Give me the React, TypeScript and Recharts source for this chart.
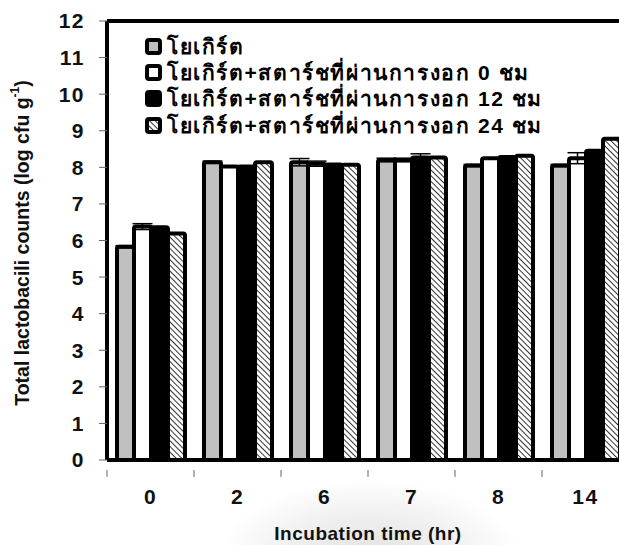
import React from 'react';
import { BarChart, Bar, XAxis, YAxis, ErrorBar, Legend } from 'recharts';

const categories = ['0', '2', '6', '7', '8', '14'];
const yogurt = [5.83, 8.14, 8.14, 8.2, 8.05, 8.05];
const yogurtErr = [0.03, 0.03, 0.1, 0.05, 0.03, 0.03];
const starch0 = [6.38, 8.02, 8.1, 8.2, 8.25, 8.25];
const starch0Err = [0.08, 0, 0.07, 0.05, 0, 0.15];
const starch12 = [6.36, 8.02, 8.08, 8.27, 8.28, 8.45];
const starch12Err = [0, 0, 0, 0.1, 0, 0];
const starch24 = [6.19, 8.14, 8.07, 8.27, 8.32, 8.78];
const starch24Err = [0, 0, 0, 0, 0, 0];
const yTicks = [0, 1, 2, 3, 4, 5, 6, 7, 8, 9, 10, 11, 12];

const seriesNames = [
  'โยเกิร์ต',
  'โยเกิร์ต+สตาร์ชที่ผ่านการงอก 0 ชม',
  'โยเกิร์ต+สตาร์ชที่ผ่านการงอก 12 ชม',
  'โยเกิร์ต+สตาร์ชที่ผ่านการงอก 24 ชม',
];

const data = categories.map((c, i) => ({
  time: c,
  yogurt: yogurt[i],
  yogurtErr: yogurtErr[i],
  starch0: starch0[i],
  starch0Err: starch0Err[i],
  starch12: starch12[i],
  starch12Err: starch12Err[i],
  starch24: starch24[i],
  starch24Err: starch24Err[i],
}));

const FONT = '"Liberation Sans", Arial, "Noto Sans", sans-serif';
const fills = ['#c0c0c0', '#ffffff', '#000000', 'url(#hatch)'];

// tick label at the category centre, tick mark at the category boundary
const XTick = (props: any) => {
  const { x, y, payload } = props;
  return (
    <g>
      <line x1={x - 43.5} y1={y + 2} x2={x - 43.5} y2={y + 9} stroke="#666" strokeWidth={1} />
      <text x={x} y={y + 36} textAnchor="middle" fontFamily={FONT} fontWeight="bold" fontSize={21} letterSpacing={1.5} fill="#111">
        {payload.value}
      </text>
    </g>
  );
};

const LegendBox = () => (
  <div style={{ fontFamily: FONT, fontWeight: 'bold', fontSize: 21, letterSpacing: 1.6, color: '#000' }}>
    {seriesNames.map((name, i) => (
      <div key={name} style={{ display: 'flex', alignItems: 'center', height: 26.3 }}>
        <svg width={17} height={17} style={{ marginRight: 5 }}>
          <defs>
            <pattern id={'lhatch' + i} patternUnits="userSpaceOnUse" width="4" height="4" patternTransform="rotate(-45)">
              <rect width="4" height="4" fill="#fff" />
              <line x1="0" y1="0" x2="0" y2="4" stroke="#333" strokeWidth="2" />
            </pattern>
          </defs>
          <rect x={2} y={2} width={13} height={13} rx={2} fill={i === 3 ? `url(#lhatch${i})` : fills[i]} stroke="#000" strokeWidth={4} />
        </svg>
        <span>{name}</span>
      </div>
    ))}
  </div>
);

export default function App() {
  return (
    <div
      style={{
        position: 'absolute',
        left: 0,
        top: 0,
        width: 619,
        height: 545,
        overflow: 'hidden',
        background: 'radial-gradient(ellipse 150px 75px at 370px 555px, #e2e2e2 0%, #f0f0f0 55%, #ffffff 100%)',
      }}
    >
      <BarChart
        width={640}
        height={545}
        data={data}
        margin={{ top: 20, right: 11, left: 0, bottom: 0 }}
        barCategoryGap={10}
        barGap={0}
      >
        <defs>
          <pattern id="hatch" patternUnits="userSpaceOnUse" width="4" height="4" patternTransform="rotate(-45)">
            <rect width="4" height="4" fill="#fff" />
            <line x1="0" y1="0" x2="0" y2="4" stroke="#333" strokeWidth="2" />
          </pattern>
        </defs>
        <XAxis
          xAxisId="top"
          orientation="top"
          dataKey="time"
          height={1}
          tick={false}
          tickLine={false}
          axisLine={{ stroke: '#000', strokeWidth: 4 }}
        />
        <XAxis
          dataKey="time"
          height={85}
          tickLine={false}
          axisLine={{ stroke: '#000', strokeWidth: 4 }}
          tick={<XTick />}
          interval={0}
          label={{
            value: 'Incubation time (hr)',
            position: 'insideBottom',
            offset: 5,
            style: { fontFamily: FONT, fontWeight: 'bold', fontSize: 19, letterSpacing: 0.5, fill: '#111' },
          }}
        />
        <YAxis
          width={107}
          domain={[0, 12]}
          ticks={yTicks}
          interval={0}
          tickSize={8}
          tickMargin={14}
          tickLine={{ stroke: '#666', strokeWidth: 1 }}
          axisLine={{ stroke: '#000', strokeWidth: 4 }}
          tick={{ fontFamily: FONT, fontWeight: 'bold', fontSize: 21, letterSpacing: 1.5, fill: '#111' }}
        />
        <Legend
          layout="vertical"
          align="center"
          verticalAlign="middle"
          wrapperStyle={{ left: 145, top: 33, width: 460 }}
          content={<LegendBox />}
        />
        <Bar dataKey="yogurt" fill={fills[0]} stroke="#000" strokeWidth={4} radius={2} isAnimationActive={false}>
          <ErrorBar dataKey="yogurtErr" width={10} stroke="#000" strokeWidth={1.5} />
        </Bar>
        <Bar dataKey="starch0" fill={fills[1]} stroke="#000" strokeWidth={4} radius={2} isAnimationActive={false}>
          <ErrorBar dataKey="starch0Err" width={10} stroke="#000" strokeWidth={1.5} />
        </Bar>
        <Bar dataKey="starch12" fill={fills[2]} stroke="#000" strokeWidth={4} radius={2} isAnimationActive={false}>
          <ErrorBar dataKey="starch12Err" width={10} stroke="#000" strokeWidth={1.5} />
        </Bar>
        <Bar dataKey="starch24" fill={fills[3]} stroke="#000" strokeWidth={4} radius={2} isAnimationActive={false}>
          <ErrorBar dataKey="starch24Err" width={10} stroke="#000" strokeWidth={1.5} />
        </Bar>
        <text
          x={22}
          y={243}
          transform="rotate(-90 22 243)"
          textAnchor="middle"
          dominantBaseline="central"
          fontFamily={FONT}
          fontWeight="bold"
          fontSize={19.5}
          fill="#111"
        >
          Total lactobacili counts (log cfu g<tspan dy={-7} fontSize={12}>-1</tspan>
          <tspan dy={7}>)</tspan>
        </text>
      </BarChart>
    </div>
  );
}
